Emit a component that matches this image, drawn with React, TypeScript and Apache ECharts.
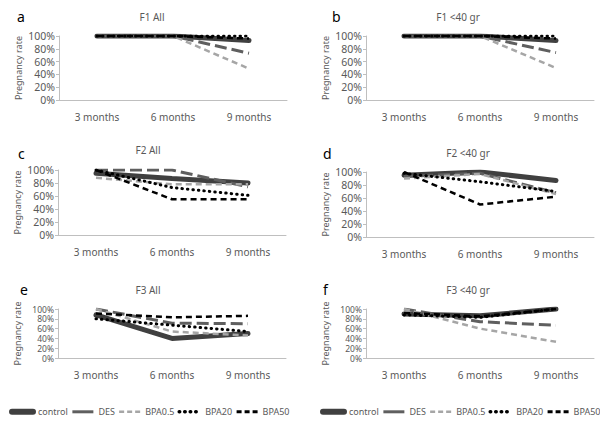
import React, { useEffect, useRef } from "react";
import * as echarts from "echarts";

const categories = ["3 months", "6 months", "9 months"];
const seriesNames = ["control", "DES", "BPA0.5", "BPA20", "BPA50"];
const panelTitles = ["F1 All", "F1 <40 gr", "F2 All", "F2 <40 gr", "F3 All", "F3 <40 gr"];
const panelLetters = ["a", "b", "c", "d", "e", "f"];
const yTicks = [0, 20, 40, 60, 80, 100];

// values per panel (a..f) for each series, in %
const control = [[100, 100, 93], [100, 100, 93], [95, 87, 80], [95, 100, 87], [88, 40, 50], [90, 86, 100]];
const des = [[100, 100, 73], [100, 100, 74], [100, 100, 74], [93, 98, 68], [100, 71, 70], [100, 74, 67]];
const bpa05 = [[100, 100, 49], [100, 100, 50], [88, 78, 78], [90, 97, 66], [100, 54, 46], [100, 60, 33]];
const bpa20 = [[100, 100, 100], [100, 100, 100], [100, 73, 61], [98, 85, 70], [80, 67, 54], [88, 83, 100]];
const bpa50 = [[100, 100, 96], [100, 100, 96], [100, 55, 55], [100, 50, 62], [91, 83, 86], [92, 85, 100]];

const seriesData = [control, des, bpa05, bpa20, bpa50];

const lineStyles: any[] = [
  { color: "#404040", width: 5, type: "solid", cap: "round" },
  { color: "#5f5f5f", width: 3, type: [12, 5] },
  { color: "#a6a6a6", width: 2.5, type: [6, 4] },
  { color: "#000000", width: 3, type: [0.5, 5], cap: "round" },
  { color: "#000000", width: 2.5, type: [6, 4] },
];
const legendLineStyles: any[] = [
  { color: "#404040", width: 6, type: "solid", cap: "round" },
  { color: "#5f5f5f", width: 3, type: "solid" },
  { color: "#a6a6a6", width: 2.5, type: [5, 3] },
  { color: "#000000", width: 3.5, type: [0.5, 5], cap: "round" },
  { color: "#000000", width: 3, type: [5, 3] },
];

const grids = [
  { left: 59, top: 36, width: 228, height: 64 },
  { left: 366, top: 36, width: 228, height: 64 },
  { left: 58, top: 170, width: 228, height: 65 },
  { left: 366, top: 172, width: 228, height: 65 },
  { left: 58, top: 309, width: 228, height: 49 },
  { left: 366, top: 309, width: 228, height: 49 },
];

const titlePos = [
  { x: 147, y: 7 },
  { x: 453, y: 7 },
  { x: 143, y: 140 },
  { x: 463, y: 143 },
  { x: 143, y: 280 },
  { x: 463, y: 280 },
];
const letterPos = [
  { x: 12, y: 4 },
  { x: 327, y: 4 },
  { x: 13, y: 141 },
  { x: 318, y: 141 },
  { x: 15, y: 277 },
  { x: 318, y: 277 },
];

const FONT = "Noto Sans";
const GREY = "#595959";

export default function App() {
  const ref = useRef<HTMLDivElement>(null);
  useEffect(() => {
    if (!ref.current) return;
    const chart = echarts.init(ref.current, undefined, { renderer: "svg" });
    const titles: any[] = [];
    panelTitles.forEach((t, i) => {
      titles.push({
        text: t,
        left: titlePos[i].x,
        top: titlePos[i].y,
        textAlign: "center",
        textStyle: { fontFamily: FONT, fontSize: 10, fontWeight: "normal", color: GREY },
      });
      titles.push({
        text: panelLetters[i],
        left: letterPos[i].x,
        top: letterPos[i].y,
        textStyle: { fontFamily: FONT, fontSize: 14, fontWeight: "normal", color: "#000" },
      });
    });
    const xAxis = grids.map((_, i) => ({
      type: "category",
      gridIndex: i,
      data: categories,
      boundaryGap: true,
      axisLine: { lineStyle: { color: "#bfbfbf", width: 1 } },
      axisTick: { show: false },
      axisLabel: { fontFamily: FONT, fontSize: 10, color: GREY, margin: 12 },
    }));
    const yAxis = grids.map((g, i) => ({
      type: "value",
      gridIndex: i,
      min: yTicks[0],
      max: yTicks[yTicks.length - 1],
      interval: 20,
      name: "Pregnancy rate",
      nameLocation: "middle",
      nameGap: 36,
      nameRotate: 90,
      nameTextStyle: { fontFamily: FONT, fontSize: 9, color: GREY },
      axisLine: { show: true, lineStyle: { color: "#bfbfbf", width: 1 } },
      axisTick: { show: true, length: 3, lineStyle: { color: "#bfbfbf" } },
      splitLine: { show: false },
      axisLabel: {
        fontFamily: FONT,
        fontSize: g.height < 55 ? 8.5 : 10.5,
        lineHeight: g.height < 55 ? 8.5 : 12,
        color: GREY,
        margin: 4,
        formatter: "{value}%",
        showMinLabel: true,
        showMaxLabel: true,
        hideOverlap: false,
      },
    }));
    const series: any[] = [];
    grids.forEach((_, gi) => {
      seriesNames.forEach((name, si) => {
        series.push({
          type: "line",
          name,
          xAxisIndex: gi,
          yAxisIndex: gi,
          data: seriesData[si][gi],
          symbol: "none",
          lineStyle: lineStyles[si],
          itemStyle: { color: lineStyles[si].color },
          z: 2 + si,
        });
      });
    });
    const legendBase = {
      data: seriesNames.map((n, i) => ({ name: n, lineStyle: legendLineStyles[i] })),
      top: 402,
      width: 295,
      itemWidth: 21,
      itemHeight: 12,
      itemGap: 3,
      itemStyle: { opacity: 0 },
      textStyle: { fontFamily: FONT, fontSize: 9, color: GREY },
      selectedMode: false,
    };
    chart.setOption({
      animation: false,
      backgroundColor: "#fff",
      title: titles,
      grid: grids,
      xAxis,
      yAxis,
      legend: [
        { ...legendBase, left: 4 },
        { ...legendBase, left: 315 },
      ],
      series,
    });
    return () => chart.dispose();
  }, []);
  return <div ref={ref} style={{ width: 600, height: 425, position: "absolute", left: 0, top: 0 }} />;
}
